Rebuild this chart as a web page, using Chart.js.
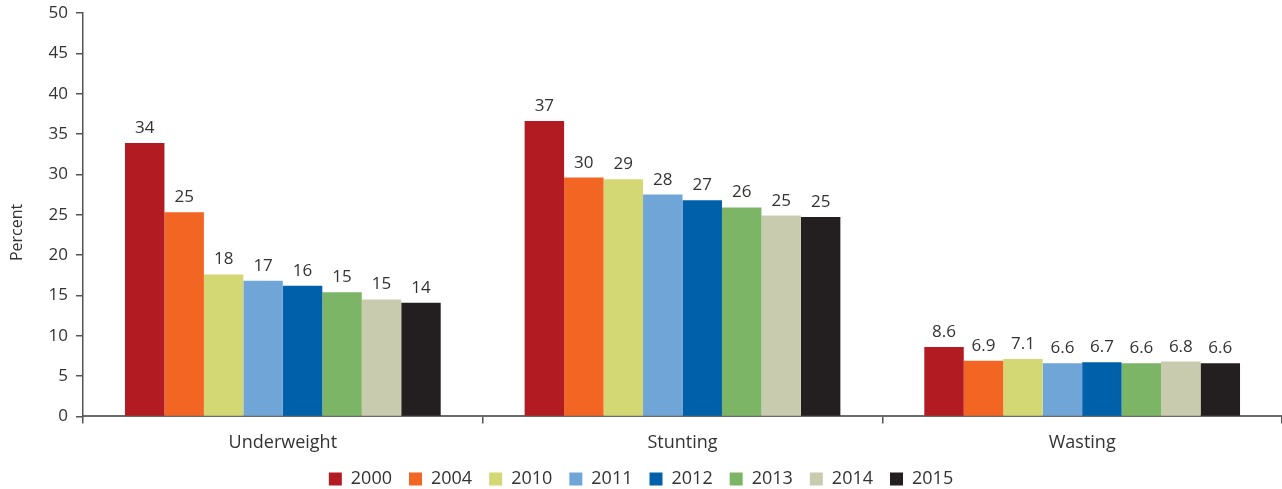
<!DOCTYPE html>
<html>
<head>
<meta charset="utf-8">
<script src="https://cdn.jsdelivr.net/npm/chart.js@4"></script>
<style>
  html, body { margin: 0; padding: 0; background: #ffffff; }
  #wrap { width: 1282px; height: 489px; position: relative; }
</style>
</head>
<body>
<div id="wrap"><canvas id="c"></canvas></div>
<script>
const categories = ["Underweight", "Stunting", "Wasting"];
const years = ["2000", "2004", "2010", "2011", "2012", "2013", "2014", "2015"];
const v2000 = [33.9, 36.6, 8.6];
const v2004 = [25.3, 29.6, 6.9];
const v2010 = [17.6, 29.4, 7.1];
const v2011 = [16.8, 27.5, 6.6];
const v2012 = [16.2, 26.8, 6.7];
const v2013 = [15.4, 25.9, 6.6];
const v2014 = [14.5, 24.9, 6.8];
const v2015 = [14.1, 24.7, 6.6];
const yTicks = [0, 5, 10, 15, 20, 25, 30, 35, 40, 45, 50];
const yTitle = "Percent";

const seriesValues = [v2000, v2004, v2010, v2011, v2012, v2013, v2014, v2015];
const colors = ["#B31B23", "#F26522", "#D3D874", "#6FA5D7", "#0060A9", "#7DB567", "#C8CBAD", "#231F20"];

const FONT = "'Open Sans', 'Noto Sans', sans-serif";
const TEXT = "#333333";

const labelPlugin = {
  id: "barLabels",
  afterDatasetsDraw(chart) {
    const ctx = chart.ctx;
    ctx.save();
    ctx.font = "17px " + FONT;
    ctx.fillStyle = TEXT;
    ctx.textAlign = "center";
    ctx.textBaseline = "alphabetic";
    chart.data.datasets.forEach((ds, di) => {
      const meta = chart.getDatasetMeta(di);
      meta.data.forEach((bar, i) => {
        const v = ds.data[i];
        const txt = v < 10 ? v.toFixed(1) : String(Math.round(v));
        ctx.fillText(txt, bar.x, bar.y - 10);
      });
    });
    ctx.restore();
  }
};

const yTitlePlugin = {
  id: "yTitle",
  afterDraw(chart) {
    const ctx = chart.ctx;
    const ys = chart.scales.y;
    ctx.save();
    ctx.font = "16px " + FONT;
    ctx.fillStyle = TEXT;
    ctx.textAlign = "center";
    ctx.textBaseline = "middle";
    ctx.translate(17, ys.getPixelForValue(22.8));
    ctx.rotate(-Math.PI / 2);
    ctx.fillText(yTitle, 0, 0);
    ctx.restore();
  }
};

new Chart(document.getElementById("c"), {
  type: "bar",
  data: {
    labels: categories,
    datasets: years.map((y, i) => ({
      label: y,
      data: seriesValues[i],
      backgroundColor: colors[i],
      borderWidth: 0,
      barPercentage: 1.0,
      categoryPercentage: 0.79
    }))
  },
  options: {
    responsive: true,
    maintainAspectRatio: false,
    animation: false,
    layout: { padding: { left: 0, right: 0, top: 0, bottom: -9 } },
    plugins: {
      legend: {
        position: "bottom",
        labels: {
          boxWidth: 13,
          boxHeight: 13,
          padding: 17,
          color: TEXT,
          font: { family: FONT, size: 18, lineHeight: 1 }
        }
      },
      tooltip: { enabled: false }
    },
    scales: {
      x: {
        offset: true,
        afterFit(scale) { scale.height -= 10; },
        grid: {
          display: true,
          offset: true,
          drawOnChartArea: false,
          drawTicks: true,
          tickLength: 7,
          color: "#555555",
          lineWidth: 1.5
        },
        border: { display: true, color: "#6b6b6b", width: 2 },
        ticks: {
          color: TEXT,
          padding: 9,
          font: { family: FONT, size: 18 }
        }
      },
      y: {
        min: 0,
        max: 50,
        afterBuildTicks(scale) { scale.ticks = yTicks.map(v => ({ value: v })); },
        afterFit(scale) { scale.width = 83; scale.paddingTop = 13; },
        grid: {
          display: true,
          drawOnChartArea: false,
          drawTicks: true,
          tickLength: 7,
          color: "#555555",
          lineWidth: 1.5
        },
        border: { display: true, color: "#555555", width: 1.5 },
        ticks: {
          color: TEXT,
          padding: 8,
          font: { family: FONT, size: 17 }
        },
        title: { display: false }
      }
    }
  },
  plugins: [labelPlugin, yTitlePlugin]
});
</script>
</body>
</html>
